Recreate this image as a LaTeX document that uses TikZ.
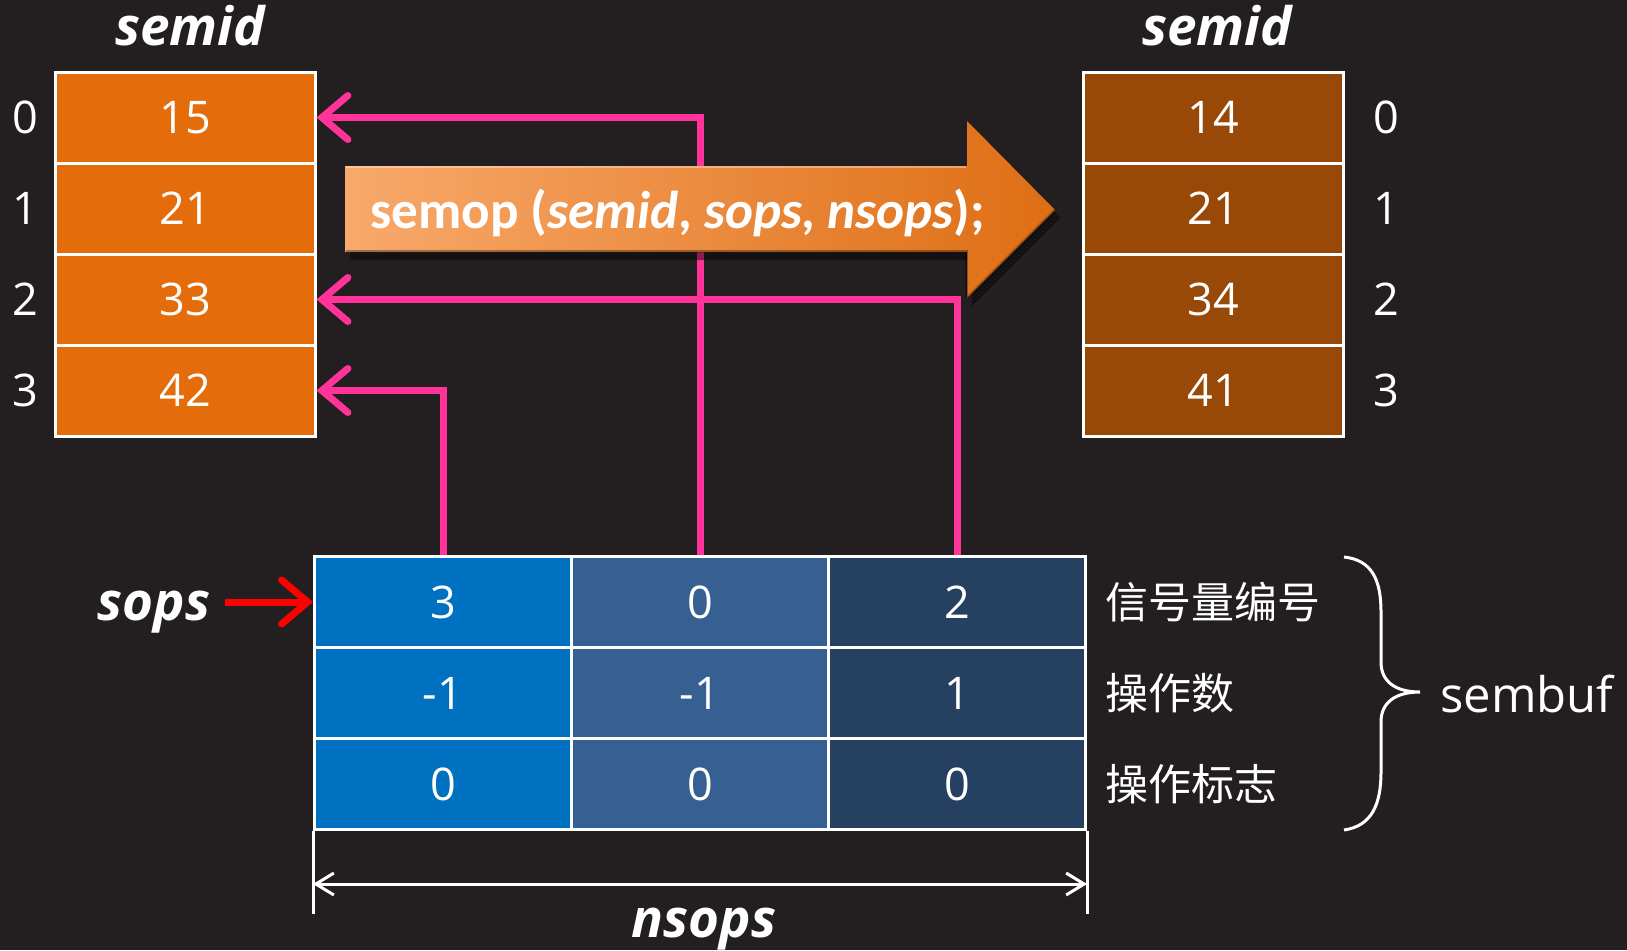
\documentclass[tikz,border=0pt]{standalone}
\usepackage{fontspec}
\setmainfont{Open Sans}
\newfontfamily\calfont{Carlito}
\newfontfamily\cjkfont{Noto Sans CJK SC}
\usetikzlibrary{arrows.meta,calc}
\definecolor{bg}{HTML}{231F20}
\definecolor{orangeL}{HTML}{E46C0A}
\definecolor{brownR}{HTML}{984807}
\definecolor{blueA}{HTML}{0070C0}
\definecolor{blueB}{HTML}{366092}
\definecolor{blueC}{HTML}{254061}
\definecolor{pinkline}{HTML}{FF3399}
\definecolor{arrL}{HTML}{F8A96B}
\definecolor{arrR}{HTML}{DE6E14}
\begin{document}
\begin{tikzpicture}[x=0.5pt,y=-0.5pt,
  numfont/.style={font=\fontsize{22.5pt}{27pt}\selectfont},
  cellbase/.style={draw=white, line width=1.5pt, minimum width=130pt, minimum height=45.5pt, inner sep=0pt, text=white, numfont},
  lcell/.style={cellbase, fill=orangeL},
  rcell/.style={cellbase, fill=brownR},
  bcellA/.style={cellbase, fill=blueA, minimum width=128.5pt},
  bcellB/.style={cellbase, fill=blueB, minimum width=128.5pt},
  bcellC/.style={cellbase, fill=blueC, minimum width=128.5pt},
  idx/.style={text=white, numfont, inner sep=0pt},
  title/.style={text=white, font=\fontsize{26.5pt}{30pt}\selectfont\bfseries\itshape, inner sep=0pt},
  cjk/.style={text=white, font=\fontsize{21.5pt}{26pt}\selectfont\cjkfont, inner sep=0pt},
  pinkarrow/.style={draw=pinkline, line width=3.5pt, -{Straight Barb[length=13pt,width=22pt,line cap=round]}},
  redarrow/.style={draw=red, line width=3.5pt, -{Straight Barb[length=13pt,width=22pt,line cap=round]}},
  dimline/.style={draw=white, line width=1.5pt},
  dimarrow/.style={draw=white, line width=1.5pt, {Straight Barb[length=9pt,width=11pt]}-{Straight Barb[length=9pt,width=11pt]}}
]
\fill[bg] (0,0) rectangle (1627,950);
\useasboundingbox (0,0) rectangle (1627,950);

% left table
\node[lcell] (L0) at (185,117.5) {15};
\node[lcell] (L1) at (185,208.5) {21};
\node[lcell] (L2) at (185,299.5) {33};
\node[lcell] (L3) at (185,390.5) {42};
\foreach \i/\y in {0/117.5,1/208.5,2/299.5,3/390.5}
  \node[idx] (li\i) at (25,\y) {\i};
\node[title, anchor=base] (ltitle) at (190,45) {semid};

% right table
\node[rcell] (R0) at (1213,117.5) {14};
\node[rcell] (R1) at (1213,208.5) {21};
\node[rcell] (R2) at (1213,299.5) {34};
\node[rcell] (R3) at (1213,390.5) {41};
\foreach \i/\y in {0/117.5,1/208.5,2/299.5,3/390.5}
  \node[idx] (ri\i) at (1386,\y) {\i};
\node[title, anchor=base] (rtitle) at (1217,45) {semid};

% bottom table
\node[bcellA] (B00) at (443,602) {3};
\node[bcellB] (B01) at (700,602) {0};
\node[bcellC] (B02) at (957,602) {2};
\node[bcellA] (B10) at (443,693) {-1};
\node[bcellB] (B11) at (700,693) {-1};
\node[bcellC] (B12) at (957,693) {1};
\node[bcellA] (B20) at (443,784) {0};
\node[bcellB] (B21) at (700,784) {0};
\node[bcellC] (B22) at (957,784) {0};

% row labels
\node[cjk, anchor=west] (lab0) at (1105,602) {信号量编号};
\node[cjk, anchor=west] (lab1) at (1105,693) {操作数};
\node[cjk, anchor=west] (lab2) at (1105,784) {操作标志};

% pink connectors
\draw[pinkarrow] (B00.north) |- (L3.east);
\draw[pinkarrow] (B01.north) |- (L0.east);
\draw[pinkarrow] (B02.north) |- (L2.east);

% big arrow
\coordinate (aTip) at (1055,210);
\fill[black, opacity=0.45] ($(345,166)+(5,8)$) -- (972,174) -- (972,129) -- (1060,218) -- (972,306) -- (972,260) -- (350,260) -- cycle;
\shade[left color=arrL, right color=arrR] (345,166) -- (967,166) -- (967,121) -- (aTip) -- (967,298) -- (967,252) -- (345,252) -- cycle;
\draw[white, opacity=0.35, line width=1pt] (346,167) -- (966,167);
\draw[black, opacity=0.35, line width=1.5pt] (346,251) -- (966,251) -- (966,297);
\draw[black, opacity=0.25, line width=1.5pt] (967,298) -- (aTip);
\node[anchor=base west, text=white, inner sep=0pt, font=\fontsize{26.6pt}{32pt}\selectfont\calfont\bfseries] (call) at (370,228)
  {semop (\textit{semid}, \textit{sops}, \textit{nsops});};

% sops pointer
\node[title, anchor=base] (sops) at (154,620) {sops};
\coordinate (rstart) at (225,602);
\draw[redarrow] (rstart) -- (B00.west);

% dimension
\coordinate (d1) at ($(B20.south west)+(0,83)$);
\coordinate (d2) at ($(B22.south east)+(0,83)$);
\draw[dimline] (B20.south west) -- (d1);
\draw[dimline] (B22.south east) -- (d2);
\coordinate (da1) at ($(B20.south west)+(0,53)$);
\coordinate (da2) at ($(B22.south east)+(0,53)$);
\draw[dimarrow] (da1) -- (da2);
\node[title, anchor=base] (nsops) at (704,937) {nsops};

% brace
\coordinate (bt) at (1344,557);
\coordinate (btip) at (1420,692);
\coordinate (bb) at (1344,830);
\draw[white, line width=1.5pt] (bt) .. controls (1372,560) and (1381,580) .. (1381,612) -- (1381,662)
  .. controls (1381,682) and (1396,692) .. (btip)
  .. controls (1396,692) and (1381,702) .. (1381,722) -- (1381,772)
  .. controls (1381,804) and (1372,826) .. (bb);
\node[text=white, anchor=base west, inner sep=0pt, font=\fontsize{24.5pt}{29pt}\selectfont] (sembuf) at (1440,712) {sembuf};
\end{tikzpicture}
\end{document}
